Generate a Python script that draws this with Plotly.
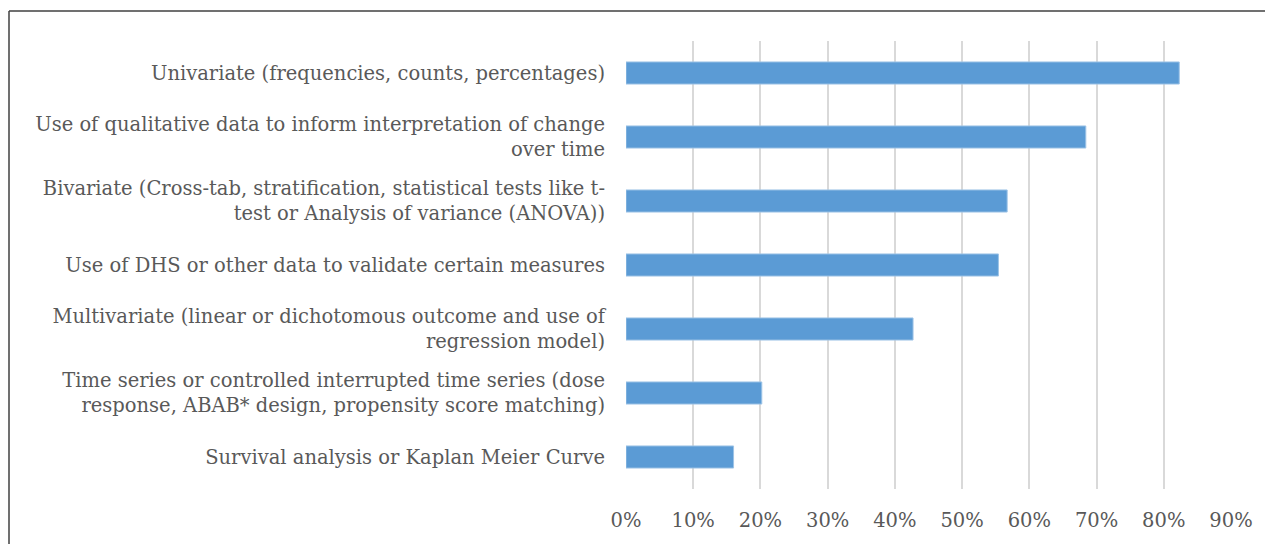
import plotly.graph_objects as go

categories = [
    "Univariate (frequencies, counts, percentages)",
    "Use of qualitative data to inform interpretation of change<br>over time",
    "Bivariate (Cross-tab, stratification, statistical tests like t-<br>test or Analysis of variance (ANOVA))",
    "Use of DHS or other data to validate certain measures",
    "Multivariate (linear or dichotomous outcome and use of<br>regression model)",
    "Time series or controlled interrupted time series (dose<br>response, ABAB* design, propensity score matching)",
    "Survival analysis or Kaplan Meier Curve",
]
values = [0.823, 0.684, 0.567, 0.554, 0.427, 0.202, 0.160]
x_ticks = [0, 0.1, 0.2, 0.3, 0.4, 0.5, 0.6, 0.7, 0.8, 0.9]
x_tick_labels = ["0%", "10%", "20%", "30%", "40%", "50%", "60%", "70%", "80%", "90%"]

# page has an 8px body margin
W, H = 1265, 536
L, R, T, B = 618, 42, 33, 55

fig = go.Figure(go.Bar(
    y=categories, x=values, orientation="h",
    marker=dict(color="#5B9BD5", line=dict(color="#9DC3E6", width=1)),
    width=0.345,
))

font_family = "DejaVu Serif"
fig.update_layout(
    width=W, height=H,
    margin=dict(l=L, r=R, t=T, b=B, pad=0),
    paper_bgcolor="white", plot_bgcolor="white",
    showlegend=False,
    font=dict(family=font_family, size=19.5, color="#595959"),
    xaxis=dict(
        range=[0, 0.9], tickvals=x_ticks, ticktext=x_tick_labels,
        showgrid=True, gridcolor="#D9D9D9", gridwidth=2,
        zeroline=False, showline=False, ticks="", ticklabelstandoff=17,
        fixedrange=True,
    ),
    yaxis=dict(
        categoryorder="array", categoryarray=categories[::-1],
        autorange=False, range=[-0.5, 6.5],
        showgrid=False, zeroline=False, showline=False, ticks="",
        ticklabelstandoff=20,
    ),
)

# outer border (top and left edges visible)
pw = W - L - R
ph = H - T - B
x0p = (1 - L) / pw
y1p = 1 + (T - 3) / ph
fig.add_shape(type="line", xref="paper", yref="paper", x0=x0p, x1=x0p, y0=-0.5, y1=y1p,
              line=dict(color="#404040", width=1.5))
fig.add_shape(type="line", xref="paper", yref="paper", x0=x0p, x1=1.2, y0=y1p, y1=y1p,
              line=dict(color="#404040", width=1.5))

fig.write_html("out.html")
